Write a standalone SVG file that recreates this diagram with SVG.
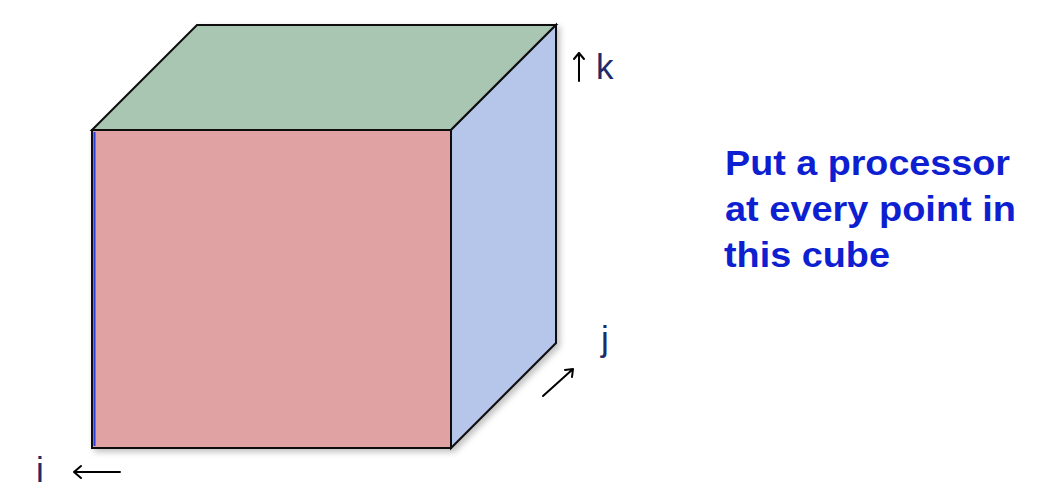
<svg xmlns="http://www.w3.org/2000/svg" width="1056" height="504" viewBox="0 0 1056 504">
  <style>
    .edge { stroke: #111; stroke-width: 2; stroke-linejoin: miter; }
    .axis { font-family: "Liberation Sans", Arial, sans-serif; font-size: 35px; fill: #1F2A6B; }
    .arrow { stroke: #000; stroke-width: 2; fill: none; stroke-linecap: round; stroke-linejoin: round; }
    .note { font-family: "Liberation Sans", Arial, sans-serif; font-weight: bold; font-size: 35px; fill: #0D1FD1; }
  </style>
  <defs>
    <filter id="shadow" x="-10%" y="-10%" width="130%" height="130%">
      <feGaussianBlur in="SourceAlpha" stdDeviation="3"/>
      <feOffset dx="3" dy="3" result="b"/>
      <feComponentTransfer><feFuncA type="linear" slope="0.25"/></feComponentTransfer>
      <feMerge><feMergeNode/><feMergeNode in="SourceGraphic"/></feMerge>
    </filter>
  </defs>
  <g id="cube" filter="url(#shadow)">
    <polygon id="top-face" class="edge" fill="#A9C6B2" points="92,130 197,25 556,25 451,130"/>
    <polygon id="right-face" class="edge" fill="#B6C5EA" points="451,130 556,25 556,343 451,448"/>
    <rect id="front-face" class="edge" fill="#E0A2A2" x="92" y="130" width="359" height="318"/>
    <line x1="94.5" y1="132" x2="94.5" y2="446" stroke="#2A3BE0" stroke-width="2"/>
  </g>
  <g id="connectors">
    <path class="arrow" d="M579,81 L579,53 M574,59 L579,53 L584,59"/>
    <path class="arrow" d="M543,396 L573,369 M565,370 L573,369 L572,377"/>
    <path class="arrow" d="M120,472 L74,472 M81,466 L74,472 L81,478"/>
  </g>
  <g id="labels">
    <text class="axis" x="596" y="79">k</text>
    <text class="axis" x="601" y="351">j</text>
    <text class="axis" x="36" y="482">i</text>
  </g>
  <g id="note">
    <text class="note" x="725" y="175" textLength="285" lengthAdjust="spacingAndGlyphs">Put a processor</text>
    <text class="note" x="725" y="221" textLength="291" lengthAdjust="spacingAndGlyphs">at every point in</text>
    <text class="note" x="724" y="267" textLength="166" lengthAdjust="spacingAndGlyphs">this cube</text>
  </g>
</svg>
